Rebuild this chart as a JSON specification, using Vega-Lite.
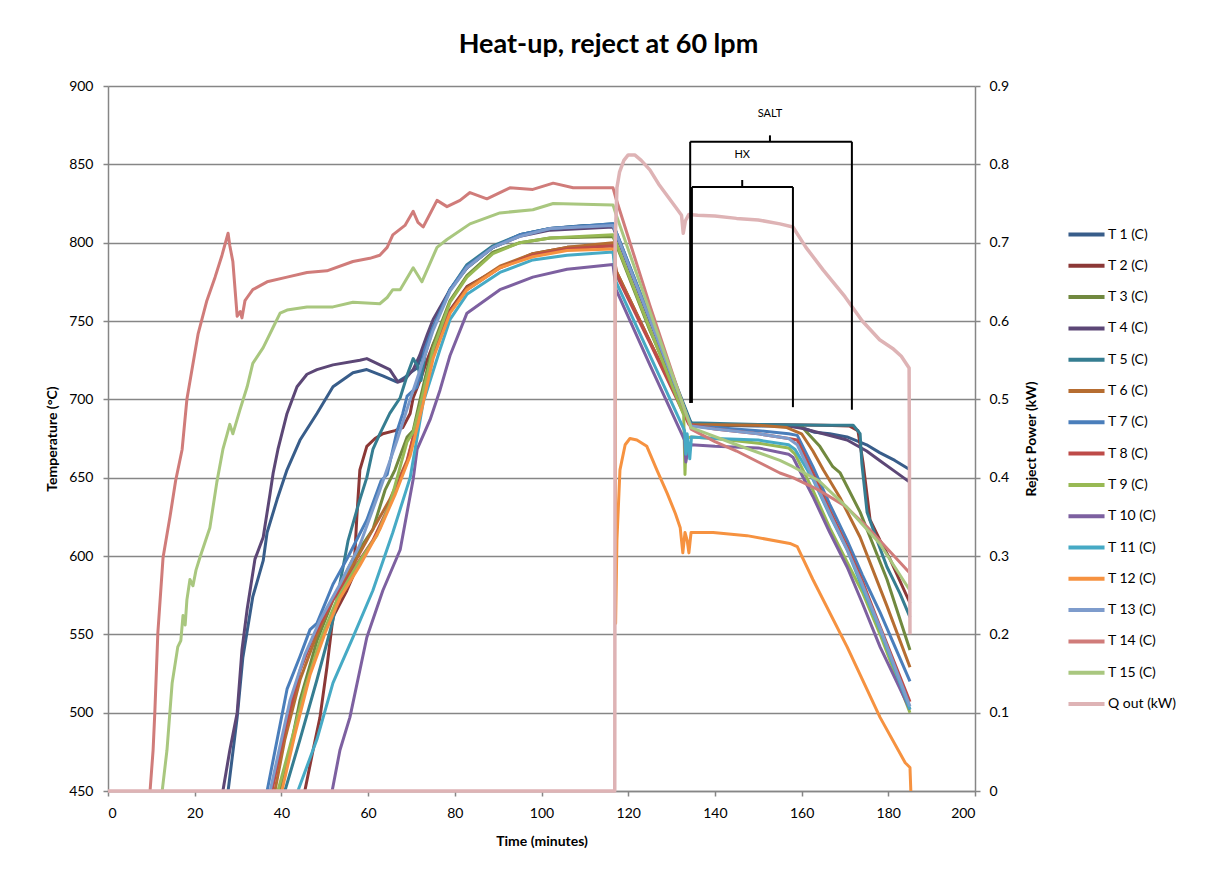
{
"$schema": "https://vega.github.io/schema/vega-lite/v6.json",
"width": 867, "height": 705,
"autosize": {"type": "none"},
"padding": {"left": 108, "top": 86, "right": 230, "bottom": 86},
"background": "white",
"title": {"text": "Heat-up, reject at 60 lpm", "font": "Lato", "fontSize": 27, "fontWeight": "bold", "color": "#000", "anchor": "middle", "offset": 20, "dx": 67},
"config": {
 "font": "Lato",
 "view": {"stroke": null},
 "axis": {"labelFont": "Lato", "labelFontSize": 14, "labelColor": "#000", "titleFont": "Lato", "titleFontSize": 14, "titleFontWeight": "bold", "titleColor": "#000", "domainColor": "#868686", "domainWidth": 1.5, "tickColor": "#868686", "tickWidth": 1.5, "tickSize": 5, "gridColor": "#868686", "gridWidth": 1.5, "gridOpacity": 1}
},
"datasets": {
 "temps": [
{"series":"T 1 (C)","time":27.7,"temp":450},{"series":"T 1 (C)","time":29.8,"temp":497},{"series":"T 1 (C)","time":31.1,"temp":535},{"series":"T 1 (C)","time":33.4,"temp":574},{"series":"T 1 (C)","time":35.8,"temp":597},{"series":"T 1 (C)","time":36.7,"temp":615},{"series":"T 1 (C)","time":39,"temp":636},{"series":"T 1 (C)","time":41.3,"temp":655},{"series":"T 1 (C)","time":44.3,"temp":674},{"series":"T 1 (C)","time":48.2,"temp":691},{"series":"T 1 (C)","time":51.9,"temp":708},{"series":"T 1 (C)","time":56.5,"temp":717},{"series":"T 1 (C)","time":59.7,"temp":719},{"series":"T 1 (C)","time":63.4,"temp":715},{"series":"T 1 (C)","time":66.7,"temp":711},{"series":"T 1 (C)","time":68.5,"temp":714},{"series":"T 1 (C)","time":69.7,"temp":717},{"series":"T 1 (C)","time":71.3,"temp":720},{"series":"T 1 (C)","time":73.1,"temp":735},{"series":"T 1 (C)","time":75,"temp":746},{"series":"T 1 (C)","time":78.9,"temp":770},{"series":"T 1 (C)","time":82.8,"temp":784},{"series":"T 1 (C)","time":88.8,"temp":797},{"series":"T 1 (C)","time":95,"temp":805},{"series":"T 1 (C)","time":102,"temp":809},{"series":"T 1 (C)","time":110,"temp":811},{"series":"T 1 (C)","time":116.5,"temp":811},{"series":"T 1 (C)","time":117.2,"temp":806},{"series":"T 1 (C)","time":125,"temp":751},{"series":"T 1 (C)","time":134.5,"temp":684},{"series":"T 1 (C)","time":140,"temp":683.5},{"series":"T 1 (C)","time":150,"temp":683},{"series":"T 1 (C)","time":157,"temp":683},{"series":"T 1 (C)","time":160,"temp":682},{"series":"T 1 (C)","time":163,"temp":679},{"series":"T 1 (C)","time":166.5,"temp":678},{"series":"T 1 (C)","time":170.5,"temp":676},{"series":"T 1 (C)","time":175,"temp":671},{"series":"T 1 (C)","time":178,"temp":666},{"series":"T 1 (C)","time":181.5,"temp":661},{"series":"T 1 (C)","time":185,"temp":655},
{"series":"T 2 (C)","time":45.4,"temp":450},{"series":"T 2 (C)","time":47.3,"temp":476},{"series":"T 2 (C)","time":48.9,"temp":497},{"series":"T 2 (C)","time":50.5,"temp":529},{"series":"T 2 (C)","time":51.9,"temp":561},{"series":"T 2 (C)","time":55.1,"temp":578},{"series":"T 2 (C)","time":56.5,"temp":587},{"series":"T 2 (C)","time":57,"temp":604},{"series":"T 2 (C)","time":57.4,"temp":625},{"series":"T 2 (C)","time":58.1,"temp":655},{"series":"T 2 (C)","time":59.7,"temp":670},{"series":"T 2 (C)","time":61.6,"temp":675},{"series":"T 2 (C)","time":63.4,"temp":678},{"series":"T 2 (C)","time":66.2,"temp":680},{"series":"T 2 (C)","time":68,"temp":682},{"series":"T 2 (C)","time":69.7,"temp":691},{"series":"T 2 (C)","time":70.4,"temp":701},{"series":"T 2 (C)","time":72,"temp":712},{"series":"T 2 (C)","time":73.6,"temp":725},{"series":"T 2 (C)","time":75,"temp":735},{"series":"T 2 (C)","time":78.9,"temp":757},{"series":"T 2 (C)","time":82.8,"temp":772},{"series":"T 2 (C)","time":90.4,"temp":784},{"series":"T 2 (C)","time":98,"temp":793},{"series":"T 2 (C)","time":105.9,"temp":797},{"series":"T 2 (C)","time":116.5,"temp":798},{"series":"T 2 (C)","time":117.2,"temp":782},{"series":"T 2 (C)","time":125,"temp":737},{"series":"T 2 (C)","time":133.8,"temp":687},{"series":"T 2 (C)","time":135,"temp":684},{"series":"T 2 (C)","time":150,"temp":684},{"series":"T 2 (C)","time":165,"temp":683.5},{"series":"T 2 (C)","time":171,"temp":683},{"series":"T 2 (C)","time":173,"temp":680},{"series":"T 2 (C)","time":174.2,"temp":659},{"series":"T 2 (C)","time":175.8,"temp":623},{"series":"T 2 (C)","time":178.1,"temp":610},{"series":"T 2 (C)","time":180.4,"temp":598},{"series":"T 2 (C)","time":182.7,"temp":584},{"series":"T 2 (C)","time":185,"temp":570},
{"series":"T 3 (C)","time":39.7,"temp":450},{"series":"T 3 (C)","time":42,"temp":476},{"series":"T 3 (C)","time":44.3,"temp":508},{"series":"T 3 (C)","time":48.2,"temp":546},{"series":"T 3 (C)","time":51.9,"temp":572},{"series":"T 3 (C)","time":56.5,"temp":598},{"series":"T 3 (C)","time":61.1,"temp":617},{"series":"T 3 (C)","time":63.9,"temp":642},{"series":"T 3 (C)","time":66.2,"temp":655},{"series":"T 3 (C)","time":69,"temp":676},{"series":"T 3 (C)","time":70.4,"temp":680},{"series":"T 3 (C)","time":72,"temp":700},{"series":"T 3 (C)","time":75,"temp":735},{"series":"T 3 (C)","time":78.9,"temp":763},{"series":"T 3 (C)","time":82.8,"temp":779},{"series":"T 3 (C)","time":88.8,"temp":794},{"series":"T 3 (C)","time":95,"temp":800},{"series":"T 3 (C)","time":102,"temp":803},{"series":"T 3 (C)","time":116.5,"temp":804},{"series":"T 3 (C)","time":117.2,"temp":799},{"series":"T 3 (C)","time":125,"temp":744},{"series":"T 3 (C)","time":134.5,"temp":684},{"series":"T 3 (C)","time":150,"temp":683.5},{"series":"T 3 (C)","time":160,"temp":683},{"series":"T 3 (C)","time":161.2,"temp":679},{"series":"T 3 (C)","time":164.2,"temp":670},{"series":"T 3 (C)","time":167.2,"temp":657},{"series":"T 3 (C)","time":168.9,"temp":653},{"series":"T 3 (C)","time":173.5,"temp":628},{"series":"T 3 (C)","time":179.7,"temp":585},{"series":"T 3 (C)","time":185,"temp":540},
{"series":"T 4 (C)","time":26.5,"temp":450},{"series":"T 4 (C)","time":28.1,"temp":476},{"series":"T 4 (C)","time":29.8,"temp":500},{"series":"T 4 (C)","time":30.9,"temp":540},{"series":"T 4 (C)","time":32.1,"temp":566},{"series":"T 4 (C)","time":33.9,"temp":598},{"series":"T 4 (C)","time":35.8,"temp":612},{"series":"T 4 (C)","time":37.4,"temp":640},{"series":"T 4 (C)","time":38.1,"temp":653},{"series":"T 4 (C)","time":39.2,"temp":668},{"series":"T 4 (C)","time":41.3,"temp":691},{"series":"T 4 (C)","time":43.6,"temp":708},{"series":"T 4 (C)","time":45.9,"temp":716},{"series":"T 4 (C)","time":48.2,"temp":719},{"series":"T 4 (C)","time":51.9,"temp":722},{"series":"T 4 (C)","time":58.1,"temp":725},{"series":"T 4 (C)","time":59.7,"temp":726},{"series":"T 4 (C)","time":62,"temp":723},{"series":"T 4 (C)","time":65,"temp":719},{"series":"T 4 (C)","time":66.9,"temp":711},{"series":"T 4 (C)","time":68,"temp":712},{"series":"T 4 (C)","time":68.9,"temp":714},{"series":"T 4 (C)","time":70.4,"temp":719},{"series":"T 4 (C)","time":71.9,"temp":728},{"series":"T 4 (C)","time":73.6,"temp":741},{"series":"T 4 (C)","time":75,"temp":751},{"series":"T 4 (C)","time":78.9,"temp":770},{"series":"T 4 (C)","time":82.8,"temp":784},{"series":"T 4 (C)","time":88.8,"temp":797},{"series":"T 4 (C)","time":95,"temp":804},{"series":"T 4 (C)","time":102,"temp":808},{"series":"T 4 (C)","time":116.5,"temp":810},{"series":"T 4 (C)","time":117.2,"temp":805},{"series":"T 4 (C)","time":125,"temp":750},{"series":"T 4 (C)","time":134.5,"temp":684},{"series":"T 4 (C)","time":150,"temp":683.5},{"series":"T 4 (C)","time":157,"temp":683},{"series":"T 4 (C)","time":160,"temp":681.5},{"series":"T 4 (C)","time":165,"temp":678},{"series":"T 4 (C)","time":170.5,"temp":674},{"series":"T 4 (C)","time":175,"temp":667},{"series":"T 4 (C)","time":178,"temp":661},{"series":"T 4 (C)","time":181.5,"temp":654},{"series":"T 4 (C)","time":185,"temp":647},
{"series":"T 5 (C)","time":40.8,"temp":450},{"series":"T 5 (C)","time":44.3,"temp":483},{"series":"T 5 (C)","time":48.2,"temp":521},{"series":"T 5 (C)","time":51.9,"temp":559},{"series":"T 5 (C)","time":55.4,"temp":610},{"series":"T 5 (C)","time":58.1,"temp":636},{"series":"T 5 (C)","time":59.7,"temp":650},{"series":"T 5 (C)","time":61.1,"temp":668},{"series":"T 5 (C)","time":62.7,"temp":678},{"series":"T 5 (C)","time":65,"temp":691},{"series":"T 5 (C)","time":67.4,"temp":701},{"series":"T 5 (C)","time":69.2,"temp":717},{"series":"T 5 (C)","time":70.4,"temp":726},{"series":"T 5 (C)","time":71.5,"temp":721},{"series":"T 5 (C)","time":72.2,"temp":712},{"series":"T 5 (C)","time":73.1,"temp":728},{"series":"T 5 (C)","time":75,"temp":746},{"series":"T 5 (C)","time":78.9,"temp":770},{"series":"T 5 (C)","time":82.8,"temp":786},{"series":"T 5 (C)","time":88.8,"temp":798},{"series":"T 5 (C)","time":95,"temp":805},{"series":"T 5 (C)","time":102,"temp":809},{"series":"T 5 (C)","time":116.5,"temp":812},{"series":"T 5 (C)","time":117.2,"temp":807},{"series":"T 5 (C)","time":125,"temp":752},{"series":"T 5 (C)","time":134.5,"temp":685},{"series":"T 5 (C)","time":150,"temp":684},{"series":"T 5 (C)","time":165,"temp":683.5},{"series":"T 5 (C)","time":171.9,"temp":683.5},{"series":"T 5 (C)","time":173.5,"temp":678},{"series":"T 5 (C)","time":173.9,"temp":659},{"series":"T 5 (C)","time":175.1,"temp":628},{"series":"T 5 (C)","time":177.4,"temp":610},{"series":"T 5 (C)","time":179.7,"temp":593},{"series":"T 5 (C)","time":182.7,"temp":576},{"series":"T 5 (C)","time":185,"temp":561},
{"series":"T 6 (C)","time":38.5,"temp":450},{"series":"T 6 (C)","time":40.8,"temp":483},{"series":"T 6 (C)","time":44.3,"temp":521},{"series":"T 6 (C)","time":48.2,"temp":550},{"series":"T 6 (C)","time":51.9,"temp":573},{"series":"T 6 (C)","time":56.5,"temp":594},{"series":"T 6 (C)","time":61.1,"temp":617},{"series":"T 6 (C)","time":65,"temp":636},{"series":"T 6 (C)","time":69,"temp":661},{"series":"T 6 (C)","time":72,"temp":693},{"series":"T 6 (C)","time":75,"temp":728},{"series":"T 6 (C)","time":78.9,"temp":756},{"series":"T 6 (C)","time":82.8,"temp":771},{"series":"T 6 (C)","time":90.4,"temp":785},{"series":"T 6 (C)","time":98,"temp":793},{"series":"T 6 (C)","time":105.9,"temp":797},{"series":"T 6 (C)","time":116.5,"temp":800},{"series":"T 6 (C)","time":117.2,"temp":782},{"series":"T 6 (C)","time":125,"temp":737},{"series":"T 6 (C)","time":134.3,"temp":684},{"series":"T 6 (C)","time":150,"temp":683.5},{"series":"T 6 (C)","time":156.6,"temp":682},{"series":"T 6 (C)","time":160,"temp":678},{"series":"T 6 (C)","time":162.6,"temp":667},{"series":"T 6 (C)","time":165,"temp":655},{"series":"T 6 (C)","time":168.9,"temp":637},{"series":"T 6 (C)","time":173.5,"temp":612},{"series":"T 6 (C)","time":179.7,"temp":568},{"series":"T 6 (C)","time":185,"temp":529},
{"series":"T 7 (C)","time":36.7,"temp":450},{"series":"T 7 (C)","time":41.3,"temp":515},{"series":"T 7 (C)","time":44.3,"temp":536},{"series":"T 7 (C)","time":46.6,"temp":553},{"series":"T 7 (C)","time":48.2,"temp":557},{"series":"T 7 (C)","time":51.9,"temp":582},{"series":"T 7 (C)","time":55.1,"temp":598},{"series":"T 7 (C)","time":59.7,"temp":623},{"series":"T 7 (C)","time":63,"temp":648},{"series":"T 7 (C)","time":64.4,"temp":652},{"series":"T 7 (C)","time":66.7,"temp":680},{"series":"T 7 (C)","time":68,"temp":691},{"series":"T 7 (C)","time":69,"temp":702},{"series":"T 7 (C)","time":71.3,"temp":708},{"series":"T 7 (C)","time":73.1,"temp":732},{"series":"T 7 (C)","time":75,"temp":746},{"series":"T 7 (C)","time":78.9,"temp":770},{"series":"T 7 (C)","time":82.8,"temp":785},{"series":"T 7 (C)","time":88.8,"temp":797},{"series":"T 7 (C)","time":95,"temp":805},{"series":"T 7 (C)","time":102,"temp":809},{"series":"T 7 (C)","time":116.5,"temp":812},{"series":"T 7 (C)","time":117.2,"temp":807},{"series":"T 7 (C)","time":125,"temp":752},{"series":"T 7 (C)","time":134.5,"temp":683},{"series":"T 7 (C)","time":140,"temp":682},{"series":"T 7 (C)","time":150,"temp":680},{"series":"T 7 (C)","time":157,"temp":678},{"series":"T 7 (C)","time":159,"temp":677},{"series":"T 7 (C)","time":162.6,"temp":657},{"series":"T 7 (C)","time":166.5,"temp":633},{"series":"T 7 (C)","time":170.5,"temp":610},{"series":"T 7 (C)","time":174,"temp":588},{"series":"T 7 (C)","time":178.1,"temp":564},{"series":"T 7 (C)","time":185,"temp":520},
{"series":"T 8 (C)","time":37.8,"temp":450},{"series":"T 8 (C)","time":40.8,"temp":489},{"series":"T 8 (C)","time":44.3,"temp":527},{"series":"T 8 (C)","time":47.3,"temp":548},{"series":"T 8 (C)","time":51.9,"temp":572},{"series":"T 8 (C)","time":56.5,"temp":591},{"series":"T 8 (C)","time":61.1,"temp":610},{"series":"T 8 (C)","time":65,"temp":633},{"series":"T 8 (C)","time":69,"temp":660},{"series":"T 8 (C)","time":72,"temp":693},{"series":"T 8 (C)","time":75,"temp":728},{"series":"T 8 (C)","time":78.9,"temp":756},{"series":"T 8 (C)","time":82.8,"temp":770},{"series":"T 8 (C)","time":90.4,"temp":784},{"series":"T 8 (C)","time":98,"temp":792},{"series":"T 8 (C)","time":105.9,"temp":796},{"series":"T 8 (C)","time":116.5,"temp":798},{"series":"T 8 (C)","time":117.2,"temp":780},{"series":"T 8 (C)","time":125,"temp":736},{"series":"T 8 (C)","time":134,"temp":684},{"series":"T 8 (C)","time":140,"temp":681},{"series":"T 8 (C)","time":150,"temp":678},{"series":"T 8 (C)","time":157,"temp":675},{"series":"T 8 (C)","time":159,"temp":674},{"series":"T 8 (C)","time":162.6,"temp":653},{"series":"T 8 (C)","time":166.5,"temp":629},{"series":"T 8 (C)","time":170.5,"temp":606},{"series":"T 8 (C)","time":174,"temp":584},{"series":"T 8 (C)","time":178.1,"temp":555},{"series":"T 8 (C)","time":185,"temp":507},
{"series":"T 9 (C)","time":39.2,"temp":450},{"series":"T 9 (C)","time":42,"temp":479},{"series":"T 9 (C)","time":45.4,"temp":515},{"series":"T 9 (C)","time":48.9,"temp":546},{"series":"T 9 (C)","time":52.8,"temp":572},{"series":"T 9 (C)","time":57.4,"temp":594},{"series":"T 9 (C)","time":62,"temp":613},{"series":"T 9 (C)","time":65,"temp":633},{"series":"T 9 (C)","time":69,"temp":673},{"series":"T 9 (C)","time":70.4,"temp":679},{"series":"T 9 (C)","time":72,"temp":696},{"series":"T 9 (C)","time":75,"temp":732},{"series":"T 9 (C)","time":78.9,"temp":762},{"series":"T 9 (C)","time":82.8,"temp":778},{"series":"T 9 (C)","time":88.8,"temp":793},{"series":"T 9 (C)","time":95,"temp":800},{"series":"T 9 (C)","time":102,"temp":803},{"series":"T 9 (C)","time":116.5,"temp":805},{"series":"T 9 (C)","time":117.2,"temp":800},{"series":"T 9 (C)","time":125,"temp":745},{"series":"T 9 (C)","time":132.8,"temp":690},{"series":"T 9 (C)","time":133.1,"temp":652},{"series":"T 9 (C)","time":133.4,"temp":675},{"series":"T 9 (C)","time":134.5,"temp":676},{"series":"T 9 (C)","time":140,"temp":675},{"series":"T 9 (C)","time":150,"temp":672},{"series":"T 9 (C)","time":157,"temp":669},{"series":"T 9 (C)","time":158.5,"temp":665},{"series":"T 9 (C)","time":162.6,"temp":642},{"series":"T 9 (C)","time":166.5,"temp":618},{"series":"T 9 (C)","time":170.5,"temp":596},{"series":"T 9 (C)","time":174,"temp":577},{"series":"T 9 (C)","time":178.1,"temp":550},{"series":"T 9 (C)","time":185,"temp":500},
{"series":"T 10 (C)","time":51.7,"temp":450},{"series":"T 10 (C)","time":53.5,"temp":476},{"series":"T 10 (C)","time":55.8,"temp":497},{"series":"T 10 (C)","time":59.7,"temp":548},{"series":"T 10 (C)","time":63.4,"temp":578},{"series":"T 10 (C)","time":67.4,"temp":604},{"series":"T 10 (C)","time":70.4,"temp":649},{"series":"T 10 (C)","time":71.3,"temp":668},{"series":"T 10 (C)","time":74.3,"temp":687},{"series":"T 10 (C)","time":76.6,"temp":706},{"series":"T 10 (C)","time":78.9,"temp":728},{"series":"T 10 (C)","time":82.8,"temp":755},{"series":"T 10 (C)","time":90.4,"temp":770},{"series":"T 10 (C)","time":98,"temp":778},{"series":"T 10 (C)","time":105.9,"temp":783},{"series":"T 10 (C)","time":116.5,"temp":786},{"series":"T 10 (C)","time":117.2,"temp":770},{"series":"T 10 (C)","time":125,"temp":722},{"series":"T 10 (C)","time":133,"temp":674},{"series":"T 10 (C)","time":133.3,"temp":660},{"series":"T 10 (C)","time":133.8,"temp":668},{"series":"T 10 (C)","time":134.5,"temp":671},{"series":"T 10 (C)","time":140,"temp":670},{"series":"T 10 (C)","time":150,"temp":669},{"series":"T 10 (C)","time":157,"temp":665},{"series":"T 10 (C)","time":158,"temp":663},{"series":"T 10 (C)","time":162.6,"temp":638},{"series":"T 10 (C)","time":166.5,"temp":615},{"series":"T 10 (C)","time":170.5,"temp":593},{"series":"T 10 (C)","time":174,"temp":570},{"series":"T 10 (C)","time":178.1,"temp":542},{"series":"T 10 (C)","time":185,"temp":502},
{"series":"T 11 (C)","time":43.8,"temp":450},{"series":"T 11 (C)","time":48.2,"temp":483},{"series":"T 11 (C)","time":51.9,"temp":519},{"series":"T 11 (C)","time":56.5,"temp":548},{"series":"T 11 (C)","time":61.1,"temp":578},{"series":"T 11 (C)","time":65.7,"temp":615},{"series":"T 11 (C)","time":69.7,"temp":650},{"series":"T 11 (C)","time":72.7,"temp":698},{"series":"T 11 (C)","time":76.6,"temp":732},{"series":"T 11 (C)","time":78.9,"temp":751},{"series":"T 11 (C)","time":82.8,"temp":767},{"series":"T 11 (C)","time":90.4,"temp":781},{"series":"T 11 (C)","time":98,"temp":789},{"series":"T 11 (C)","time":105.9,"temp":792},{"series":"T 11 (C)","time":116.5,"temp":794},{"series":"T 11 (C)","time":117.2,"temp":775},{"series":"T 11 (C)","time":125,"temp":728},{"series":"T 11 (C)","time":133,"temp":680},{"series":"T 11 (C)","time":133.3,"temp":665},{"series":"T 11 (C)","time":133.6,"temp":678},{"series":"T 11 (C)","time":134.2,"temp":662},{"series":"T 11 (C)","time":134.6,"temp":676},{"series":"T 11 (C)","time":140,"temp":675},{"series":"T 11 (C)","time":150,"temp":674},{"series":"T 11 (C)","time":157,"temp":671},{"series":"T 11 (C)","time":158.5,"temp":668},{"series":"T 11 (C)","time":162.6,"temp":649},{"series":"T 11 (C)","time":166.5,"temp":626},{"series":"T 11 (C)","time":170.5,"temp":604},{"series":"T 11 (C)","time":174,"temp":580},{"series":"T 11 (C)","time":178.1,"temp":553},{"series":"T 11 (C)","time":185,"temp":502},
{"series":"T 12 (C)","time":40.1,"temp":450},{"series":"T 12 (C)","time":43.1,"temp":486},{"series":"T 12 (C)","time":46.6,"temp":524},{"series":"T 12 (C)","time":50.1,"temp":551},{"series":"T 12 (C)","time":53.5,"temp":573},{"series":"T 12 (C)","time":58.1,"temp":594},{"series":"T 12 (C)","time":62.7,"temp":617},{"series":"T 12 (C)","time":66.2,"temp":639},{"series":"T 12 (C)","time":69.7,"temp":664},{"series":"T 12 (C)","time":72.4,"temp":694},{"series":"T 12 (C)","time":75,"temp":726},{"series":"T 12 (C)","time":78.9,"temp":755},{"series":"T 12 (C)","time":82.8,"temp":770},{"series":"T 12 (C)","time":90.4,"temp":784},{"series":"T 12 (C)","time":98,"temp":791},{"series":"T 12 (C)","time":105.9,"temp":795},{"series":"T 12 (C)","time":116.5,"temp":796},{"series":"T 12 (C)","time":117.0,"temp":796},{"series":"T 12 (C)","time":117.1,"temp":557},{"series":"T 12 (C)","time":117.4,"temp":610},{"series":"T 12 (C)","time":118.1,"temp":655},{"series":"T 12 (C)","time":119.3,"temp":671},{"series":"T 12 (C)","time":120.4,"temp":675},{"series":"T 12 (C)","time":122,"temp":674},{"series":"T 12 (C)","time":124.3,"temp":670},{"series":"T 12 (C)","time":126.6,"temp":655},{"series":"T 12 (C)","time":129,"temp":640},{"series":"T 12 (C)","time":130.9,"temp":627},{"series":"T 12 (C)","time":132,"temp":618},{"series":"T 12 (C)","time":132.6,"temp":602},{"series":"T 12 (C)","time":133.1,"temp":615},{"series":"T 12 (C)","time":133.6,"temp":610},{"series":"T 12 (C)","time":134,"temp":602},{"series":"T 12 (C)","time":134.5,"temp":615},{"series":"T 12 (C)","time":139.6,"temp":615},{"series":"T 12 (C)","time":147.4,"temp":613},{"series":"T 12 (C)","time":157.3,"temp":608},{"series":"T 12 (C)","time":159,"temp":606},{"series":"T 12 (C)","time":162.6,"temp":585},{"series":"T 12 (C)","time":170.5,"temp":542},{"series":"T 12 (C)","time":178.1,"temp":497},{"series":"T 12 (C)","time":183.9,"temp":468},{"series":"T 12 (C)","time":185,"temp":465},{"series":"T 12 (C)","time":185.2,"temp":450},
{"series":"T 13 (C)","time":37.4,"temp":450},{"series":"T 13 (C)","time":42,"temp":508},{"series":"T 13 (C)","time":45.4,"temp":537},{"series":"T 13 (C)","time":48.9,"temp":559},{"series":"T 13 (C)","time":53.5,"temp":582},{"series":"T 13 (C)","time":58.1,"temp":607},{"series":"T 13 (C)","time":62.7,"temp":642},{"series":"T 13 (C)","time":66.7,"temp":674},{"series":"T 13 (C)","time":69.7,"temp":700},{"series":"T 13 (C)","time":73.1,"temp":728},{"series":"T 13 (C)","time":75,"temp":744},{"series":"T 13 (C)","time":78.9,"temp":769},{"series":"T 13 (C)","time":82.8,"temp":784},{"series":"T 13 (C)","time":88.8,"temp":797},{"series":"T 13 (C)","time":95,"temp":804},{"series":"T 13 (C)","time":102,"temp":809},{"series":"T 13 (C)","time":116.5,"temp":811},{"series":"T 13 (C)","time":117.2,"temp":806},{"series":"T 13 (C)","time":125,"temp":751},{"series":"T 13 (C)","time":134.5,"temp":683},{"series":"T 13 (C)","time":140,"temp":681},{"series":"T 13 (C)","time":150,"temp":678},{"series":"T 13 (C)","time":157,"temp":675},{"series":"T 13 (C)","time":159,"temp":671},{"series":"T 13 (C)","time":162.6,"temp":650},{"series":"T 13 (C)","time":166.5,"temp":627},{"series":"T 13 (C)","time":170.5,"temp":604},{"series":"T 13 (C)","time":174,"temp":582},{"series":"T 13 (C)","time":178.1,"temp":554},{"series":"T 13 (C)","time":185,"temp":504},
{"series":"T 14 (C)","time":9.7,"temp":450},{"series":"T 14 (C)","time":10.4,"temp":476},{"series":"T 14 (C)","time":10.8,"temp":500},{"series":"T 14 (C)","time":11.5,"temp":551},{"series":"T 14 (C)","time":12.7,"temp":599},{"series":"T 14 (C)","time":14.3,"temp":625},{"series":"T 14 (C)","time":15.6,"temp":648},{"series":"T 14 (C)","time":17.1,"temp":668},{"series":"T 14 (C)","time":18.2,"temp":700},{"series":"T 14 (C)","time":20.8,"temp":742},{"series":"T 14 (C)","time":22.8,"temp":763},{"series":"T 14 (C)","time":24.7,"temp":778},{"series":"T 14 (C)","time":26.3,"temp":792},{"series":"T 14 (C)","time":27.7,"temp":806},{"series":"T 14 (C)","time":28.1,"temp":798},{"series":"T 14 (C)","time":28.8,"temp":788},{"series":"T 14 (C)","time":29.8,"temp":753},{"series":"T 14 (C)","time":30.5,"temp":756},{"series":"T 14 (C)","time":30.9,"temp":752},{"series":"T 14 (C)","time":31.6,"temp":763},{"series":"T 14 (C)","time":32.1,"temp":765},{"series":"T 14 (C)","time":33.4,"temp":770},{"series":"T 14 (C)","time":36.7,"temp":775},{"series":"T 14 (C)","time":41.3,"temp":778},{"series":"T 14 (C)","time":45.9,"temp":781},{"series":"T 14 (C)","time":50.5,"temp":782},{"series":"T 14 (C)","time":56.5,"temp":788},{"series":"T 14 (C)","time":60.4,"temp":790},{"series":"T 14 (C)","time":62.7,"temp":792},{"series":"T 14 (C)","time":64.4,"temp":797},{"series":"T 14 (C)","time":65.7,"temp":805},{"series":"T 14 (C)","time":68.5,"temp":811},{"series":"T 14 (C)","time":70.4,"temp":820},{"series":"T 14 (C)","time":71.5,"temp":813},{"series":"T 14 (C)","time":72.7,"temp":810},{"series":"T 14 (C)","time":75.9,"temp":827},{"series":"T 14 (C)","time":78.2,"temp":823},{"series":"T 14 (C)","time":81.2,"temp":827},{"series":"T 14 (C)","time":83.5,"temp":832},{"series":"T 14 (C)","time":87.4,"temp":828},{"series":"T 14 (C)","time":92.7,"temp":835},{"series":"T 14 (C)","time":98,"temp":834},{"series":"T 14 (C)","time":102.7,"temp":838},{"series":"T 14 (C)","time":107.3,"temp":835},{"series":"T 14 (C)","time":116.5,"temp":835},{"series":"T 14 (C)","time":117.2,"temp":828},{"series":"T 14 (C)","time":125,"temp":760},{"series":"T 14 (C)","time":134.5,"temp":681},{"series":"T 14 (C)","time":140,"temp":673},{"series":"T 14 (C)","time":145,"temp":667},{"series":"T 14 (C)","time":150,"temp":660},{"series":"T 14 (C)","time":155,"temp":653},{"series":"T 14 (C)","time":158,"temp":650},{"series":"T 14 (C)","time":164,"temp":642},{"series":"T 14 (C)","time":170,"temp":632},{"series":"T 14 (C)","time":175,"temp":619},{"series":"T 14 (C)","time":180,"temp":604},{"series":"T 14 (C)","time":185,"temp":589},
{"series":"T 15 (C)","time":12.5,"temp":450},{"series":"T 15 (C)","time":13.6,"temp":476},{"series":"T 15 (C)","time":14.8,"temp":519},{"series":"T 15 (C)","time":16.1,"temp":542},{"series":"T 15 (C)","time":16.8,"temp":546},{"series":"T 15 (C)","time":17.3,"temp":562},{"series":"T 15 (C)","time":17.8,"temp":556},{"series":"T 15 (C)","time":18.2,"temp":572},{"series":"T 15 (C)","time":18.9,"temp":585},{"series":"T 15 (C)","time":19.6,"temp":581},{"series":"T 15 (C)","time":20.3,"temp":591},{"series":"T 15 (C)","time":21.2,"temp":599},{"series":"T 15 (C)","time":23.5,"temp":618},{"series":"T 15 (C)","time":25.1,"temp":647},{"series":"T 15 (C)","time":26.5,"temp":668},{"series":"T 15 (C)","time":27.5,"temp":678},{"series":"T 15 (C)","time":28.1,"temp":684},{"series":"T 15 (C)","time":28.8,"temp":678},{"series":"T 15 (C)","time":30.4,"temp":693},{"series":"T 15 (C)","time":32.1,"temp":708},{"series":"T 15 (C)","time":33.4,"temp":723},{"series":"T 15 (C)","time":35.8,"temp":733},{"series":"T 15 (C)","time":38.1,"temp":746},{"series":"T 15 (C)","time":39.7,"temp":755},{"series":"T 15 (C)","time":41.3,"temp":757},{"series":"T 15 (C)","time":45.9,"temp":759},{"series":"T 15 (C)","time":51.9,"temp":759},{"series":"T 15 (C)","time":56.5,"temp":762},{"series":"T 15 (C)","time":62.7,"temp":761},{"series":"T 15 (C)","time":64.4,"temp":765},{"series":"T 15 (C)","time":65.7,"temp":770},{"series":"T 15 (C)","time":67.4,"temp":770},{"series":"T 15 (C)","time":70.4,"temp":784},{"series":"T 15 (C)","time":72.4,"temp":775},{"series":"T 15 (C)","time":75.9,"temp":797},{"series":"T 15 (C)","time":78.2,"temp":802},{"series":"T 15 (C)","time":83.5,"temp":812},{"series":"T 15 (C)","time":90.4,"temp":819},{"series":"T 15 (C)","time":98,"temp":821},{"series":"T 15 (C)","time":102.7,"temp":825},{"series":"T 15 (C)","time":116.5,"temp":824},{"series":"T 15 (C)","time":117.2,"temp":818},{"series":"T 15 (C)","time":125,"temp":756},{"series":"T 15 (C)","time":134.5,"temp":682},{"series":"T 15 (C)","time":145,"temp":671},{"series":"T 15 (C)","time":155,"temp":661},{"series":"T 15 (C)","time":158,"temp":657},{"series":"T 15 (C)","time":164,"temp":648},{"series":"T 15 (C)","time":170.5,"temp":631},{"series":"T 15 (C)","time":178,"temp":608},{"series":"T 15 (C)","time":185,"temp":578}
 ],
 "qout": [
{"series":"Q out (kW)","time":0,"power":0},{"series":"Q out (kW)","time":116.9,"power":0},{"series":"Q out (kW)","time":117.0,"power":0.70},{"series":"Q out (kW)","time":117.4,"power":0.77},{"series":"Q out (kW)","time":118,"power":0.79},{"series":"Q out (kW)","time":119,"power":0.805},{"series":"Q out (kW)","time":120,"power":0.812},{"series":"Q out (kW)","time":121.5,"power":0.812},{"series":"Q out (kW)","time":123,"power":0.805},{"series":"Q out (kW)","time":125,"power":0.793},{"series":"Q out (kW)","time":127,"power":0.775},{"series":"Q out (kW)","time":129,"power":0.76},{"series":"Q out (kW)","time":131,"power":0.745},{"series":"Q out (kW)","time":132.3,"power":0.735},{"series":"Q out (kW)","time":132.7,"power":0.712},{"series":"Q out (kW)","time":133.2,"power":0.728},{"series":"Q out (kW)","time":134,"power":0.736},{"series":"Q out (kW)","time":136,"power":0.735},{"series":"Q out (kW)","time":140,"power":0.734},{"series":"Q out (kW)","time":145,"power":0.731},{"series":"Q out (kW)","time":150,"power":0.729},{"series":"Q out (kW)","time":155,"power":0.724},{"series":"Q out (kW)","time":158,"power":0.72},{"series":"Q out (kW)","time":161,"power":0.694},{"series":"Q out (kW)","time":165,"power":0.665},{"series":"Q out (kW)","time":170,"power":0.631},{"series":"Q out (kW)","time":174,"power":0.60},{"series":"Q out (kW)","time":178,"power":0.576},{"series":"Q out (kW)","time":181,"power":0.565},{"series":"Q out (kW)","time":183,"power":0.555},{"series":"Q out (kW)","time":184.8,"power":0.54},{"series":"Q out (kW)","time":185,"power":0.2}
 ],
 "brackets": [
{"time":134.3,"temp":864.4,"time2":171.6,"temp2":864.4},
{"time":134.3,"temp":864.4,"time2":134.3,"temp2":697.7},
{"time":171.6,"temp":864.4,"time2":171.6,"temp2":693.3},
{"time":152.7,"temp":864.4,"time2":152.7,"temp2":868.5},
{"time":134.7,"temp":835.5,"time2":158.0,"temp2":835.5},
{"time":134.7,"temp":835.5,"time2":134.7,"temp2":697.7},
{"time":158.0,"temp":835.5,"time2":158.0,"temp2":695},
{"time":146.3,"temp":835.5,"time2":146.3,"temp2":840}
 ],
 "labels": [
{"label":"SALT","time":152.7,"temp":882},
{"label":"HX","time":146.3,"temp":856}
 ]
},
"layer": [
 {
  "data": {"name": "temps"},
  "mark": {"type": "line", "strokeWidth": 3, "strokeJoin": "round", "clip": true},
  "encoding": {
   "x": {"field": "time", "type": "quantitative", "scale": {"domain": [0, 200], "nice": false, "zero": false}, "axis": {"title": "Time (minutes)", "values": [0,20,40,60,80,100,120,140,160,180,200], "grid": false, "labelPadding": 10, "titlePadding": 14}},
   "y": {"field": "temp", "type": "quantitative", "scale": {"domain": [450, 900], "nice": false, "zero": false}, "axis": {"title": "Temperature (°C)", "values": [450,500,550,600,650,700,750,800,850,900], "grid": true, "labelPadding": 10, "titlePadding": 9}},
   "color": {"field": "series", "type": "nominal", "sort": null,
     "scale": {"domain": ["T 1 (C)","T 2 (C)","T 3 (C)","T 4 (C)","T 5 (C)","T 6 (C)","T 7 (C)","T 8 (C)","T 9 (C)","T 10 (C)","T 11 (C)","T 12 (C)","T 13 (C)","T 14 (C)","T 15 (C)","Q out (kW)"],
       "range": ["#385D8A","#8C3836","#71893F","#5C4776","#357D91","#B66D31","#4A7EBB","#BE4B48","#98B954","#7D60A0","#46AAC5","#F69240","#7E9CCC","#D07C7A","#A9C77F","#DEB3B5"]},
     "legend": {"orient": "none", "legendX": 958, "legendY": 128, "title": null, "symbolType": "stroke", "symbolStrokeWidth": 4, "symbolSize": 1300, "labelFont": "Lato", "labelFontSize": 14, "labelColor": "#000", "rowPadding": 2.3, "labelOffset": 1}}
  }
 },
 {
  "data": {"name": "qout"},
  "mark": {"type": "line", "strokeWidth": 3.5, "strokeJoin": "round"},
  "encoding": {
   "x": {"field": "time", "type": "quantitative", "scale": {"domain": [0, 200], "nice": false, "zero": false}},
   "y": {"field": "power", "type": "quantitative", "scale": {"domain": [0, 0.9], "nice": false}, "axis": {"orient": "right", "title": "Reject Power (kW)", "titleAngle": 270, "values": [0,0.1,0.2,0.3,0.4,0.5,0.6,0.7,0.8,0.9], "format": "~g", "grid": false, "labelPadding": 9, "titlePadding": 30}},
   "color": {"field": "series", "type": "nominal", "sort": null}
  }
 },
 {
  "data": {"name": "brackets"},
  "mark": {"type": "rule", "color": "#000", "strokeWidth": 2},
  "encoding": {
   "x": {"field": "time", "type": "quantitative", "scale": {"domain": [0, 200], "nice": false, "zero": false}},
   "x2": {"field": "time2"},
   "y": {"field": "temp", "type": "quantitative", "scale": {"domain": [450, 900], "nice": false, "zero": false}, "axis": null},
   "y2": {"field": "temp2"}
  }
 },
 {
  "data": {"name": "labels"},
  "mark": {"type": "text", "font": "Lato", "fontSize": 11, "color": "#000"},
  "encoding": {
   "x": {"field": "time", "type": "quantitative", "scale": {"domain": [0, 200], "nice": false, "zero": false}},
   "y": {"field": "temp", "type": "quantitative", "scale": {"domain": [450, 900], "nice": false, "zero": false}, "axis": null},
   "text": {"field": "label"}
  }
 }
],
"resolve": {"scale": {"y": "independent"}}
}
